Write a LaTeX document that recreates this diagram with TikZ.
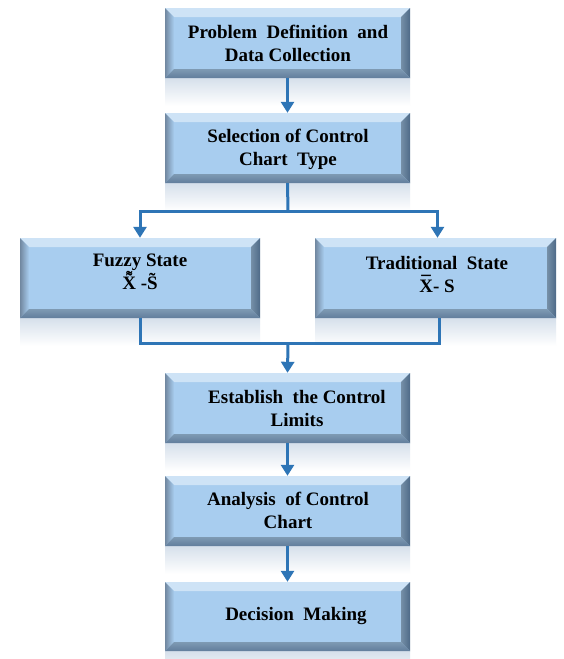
\documentclass[tikz,border=0pt]{standalone}
\usepackage{fontspec}
\setmainfont{Liberation Serif}
\usetikzlibrary{arrows.meta,calc}
\definecolor{face}{RGB}{168,205,239}
\definecolor{topb}{RGB}{206,227,246}
\definecolor{leftb}{RGB}{135,170,205}
\definecolor{rightb}{RGB}{78,106,136}
\definecolor{botb}{RGB}{98,126,156}
\definecolor{reflc}{RGB}{214,224,235}
\definecolor{arrowc}{RGB}{46,117,182}
\tikzset{
  conn/.style={draw=arrowc, line width=3pt},
  arr/.style={conn, -{Triangle[width=13pt,length=11pt]}},
  boxtext/.style={font=\fontsize{19}{23}\selectfont\bfseries, align=center, inner sep=0pt},
}
\newcommand\markover[3]{{\ooalign{#1\cr\hidewidth\raisebox{#3}{\smash{#2}}\hidewidth\cr}}}
\newcommand\bevbox[5]{%
  \fill[top color=reflc, bottom color=white] (#2,#5) rectangle (#4,{#5+28});
  \node[fill=face, inner sep=0pt, minimum width={(#4-#2)*1pt}, minimum height={(#5-#3)*1pt}] (#1) at ({(#2+#4)/2},{(#3+#5)/2}) {};
  \fill[topb] (#2,#3) -- (#4,#3) -- ({#4-9},{#3+9}) -- ({#2+9},{#3+9}) -- cycle;
  \shade[left color=rightb!80, right color=face] (#2,#3) -- ({#2+9},{#3+9}) -- ({#2+9},{#5-9}) -- (#2,#5) -- cycle;
  \shade[left color=face!70!black, right color=rightb] (#4,#3) -- (#4,#5) -- ({#4-9},{#5-9}) -- ({#4-9},{#3+9}) -- cycle;
  \shade[top color=face!75!black, bottom color=botb] (#2,#5) -- (#4,#5) -- ({#4-9},{#5-9}) -- ({#2+9},{#5-9}) -- cycle;
}
\begin{document}
\begin{tikzpicture}[x=1pt,y=-1pt]
\useasboundingbox (0,0) rectangle (563,659);
\fill[white] (0,0) rectangle (563,659);

\bevbox{b1}{165}{8}{410}{78}
\bevbox{b2}{165}{113}{410}{183}
\bevbox{fz}{20}{238}{260}{318}
\bevbox{tr}{315}{238}{556}{318}
\bevbox{b3}{165}{373}{410}{443}
\bevbox{b4}{165}{476}{410}{546}
\bevbox{b5}{165}{582}{410}{651}

\node[boxtext] (t1) at (288,43) {Problem~ Definition~ and\\Data Collection};
\node[boxtext] (t2) at (288,149) {Selection of Control\\Chart~ Type};
\node[boxtext] (t3) at (140,272) {Fuzzy State\\\markover{\markover{X}{˜}{0.17em}}{˜}{0.29em} -\markover{S}{˜}{0.17em}};
\node[boxtext] (t4) at (437,274) {Traditional~ State\\\markover{X}{¯}{0.14em}- S};
\node[boxtext] (t5) at (297,408) {Establish~ the Control\\Limits};
\node[boxtext] (t6) at (288,510) {Analysis~ of Control\\Chart};
\node[boxtext] (t7) at (296,616) {Decision~ Making};

\coordinate (s) at (288,211);
\coordinate (m) at (288,343);
\draw[arr] (b1.south) -- (b2.north);
\draw[conn] (b2.south) -- (s);
\draw[arr] (s) -| (fz.north);
\draw[arr] (s) -| ($(tr.north)+(2,0)$);
\draw[conn] (fz.south) |- (m);
\draw[conn] ($(tr.south)+(4,0)$) |- (m);
\draw[arr] (m) -- (b3.north);
\draw[arr] (b3.south) -- (b4.north);
\draw[arr] (b4.south) -- (b5.north);
\end{tikzpicture}
\end{document}
